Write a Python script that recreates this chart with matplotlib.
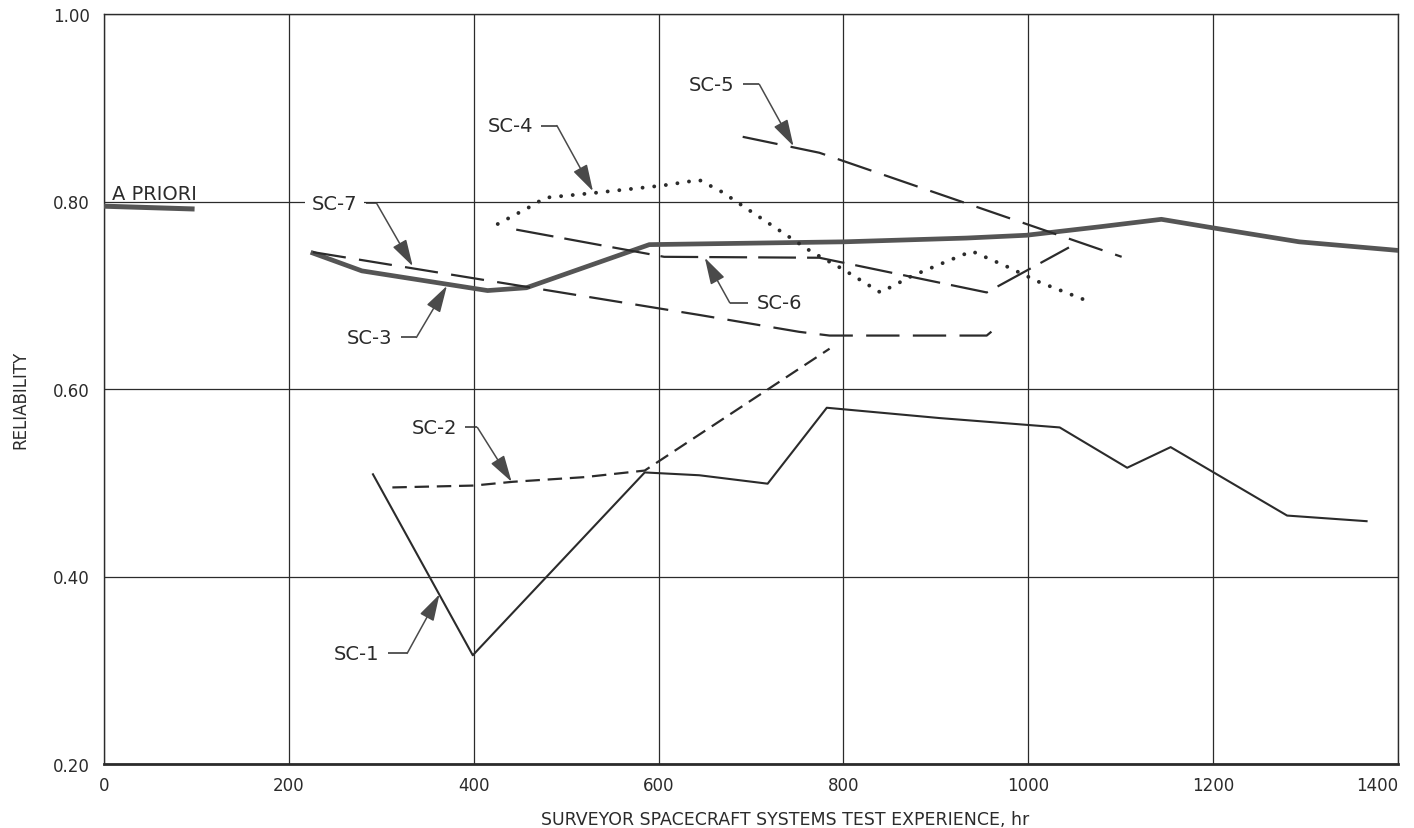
import matplotlib
matplotlib.use("Agg")
import matplotlib.pyplot as plt

# Reliability growth of Surveyor spacecraft versus systems test hours
a_priori_hr = [0, 98]
a_priori_rel = [0.795, 0.792]

sc1_hr = [291, 399, 585, 644, 718, 782, 904, 1034, 1107, 1154, 1280, 1366]
sc1_rel = [0.509, 0.316, 0.511, 0.508, 0.499, 0.580, 0.569, 0.559, 0.516, 0.538, 0.465, 0.459]

sc2_hr = [312, 400, 442, 520, 585, 785]
sc2_rel = [0.495, 0.497, 0.501, 0.506, 0.513, 0.643]

sc3_hr = [226, 279, 415, 457, 590, 801, 933, 998, 1077, 1144, 1199, 1293, 1398]
sc3_rel = [0.745, 0.726, 0.705, 0.708, 0.754, 0.757, 0.761, 0.764, 0.773, 0.781, 0.772, 0.757, 0.748]

sc4_hr = [426, 464, 477, 529, 604, 644, 669, 693, 734, 766, 799, 840, 875, 914, 939, 976, 1012, 1069]
sc4_rel = [0.776, 0.796, 0.804, 0.809, 0.817, 0.823, 0.810, 0.794, 0.767, 0.746, 0.728, 0.703,
           0.721, 0.737, 0.747, 0.731, 0.714, 0.692]

sc5_hr = [691, 774, 1101]
sc5_rel = [0.869, 0.852, 0.741]

sc6_hr = [446, 606, 774, 955, 1044]
sc6_rel = [0.770, 0.741, 0.740, 0.703, 0.751]

sc7_hr = [226, 644, 752, 785, 955, 971]
sc7_rel = [0.746, 0.679, 0.661, 0.657, 0.657, 0.670]

x_ticks = [0, 200, 400, 600, 800, 1000, 1200, 1400]
y_ticks = [0.20, 0.40, 0.60, 0.80, 1.00]

INK = "#2b2b2b"

fig = plt.figure(figsize=(14.14, 8.29), dpi=100)
ax = fig.add_axes([104 / 1414, 1 - 765 / 829, (1398 - 104) / 1414, (765 - 15) / 829])
ax.set_xlim(0, 1400)
ax.set_ylim(0.2, 1.0)
ax.set_xticks(x_ticks)
ax.set_yticks(y_ticks)
ax.set_yticklabels([f"{v:.2f}" for v in y_ticks])
ax.tick_params(length=0, labelsize=12, colors=INK)
ax.tick_params(axis="x", pad=9)
ax.tick_params(axis="y", pad=10)
# keep the last hour label inside the figure
ax.get_xticklabels()[-1].set_horizontalalignment("right")
ax.grid(True, color=INK, lw=0.9, zorder=0.5)
ax.set_axisbelow(True)
for side, sp in ax.spines.items():
    sp.set_color(INK)
    sp.set_linewidth(2.0 if side == "bottom" else 1.0)

# a priori estimate
ax.plot(a_priori_hr, a_priori_rel, color="#555555", lw=3.6, solid_capstyle="butt", zorder=4)
ax.text(9, 0.808, "A PRIORI", fontsize=14, color=INK, ha="left", va="center", zorder=3)

# spacecraft curves
ax.plot(sc1_hr, sc1_rel, color=INK, lw=1.5, zorder=4)
ax.plot(sc2_hr, sc2_rel, color=INK, lw=1.6, linestyle=(0, (6.5, 3.5)), zorder=4)
ax.plot(sc3_hr, sc3_rel, color="#555555", lw=3.4, solid_joinstyle="round", zorder=4)
ax.plot(sc4_hr, sc4_rel, color=INK, lw=2.8, linestyle=(0, (0.01, 3.0)),
        dash_capstyle="round", zorder=4)
ax.plot(sc5_hr, sc5_rel, color=INK, lw=1.6, linestyle=(0, (16, 6)), zorder=4)
ax.plot(sc6_hr, sc6_rel, color=INK, lw=1.6, linestyle=(0, (17, 5)), zorder=4)
ax.plot(sc7_hr, sc7_rel, color=INK, lw=1.6, linestyle=(0, (15, 6)), zorder=4)

# leader labels: (label, text x, text y, bend x, tip x, tip y, text side)
callouts = [
    ("SC-1", 298, 0.318, 328, 363, 0.381, "left"),
    ("SC-2", 382, 0.559, 404, 441, 0.501, "left"),
    ("SC-3", 312, 0.655, 338, 371, 0.710, "left"),
    ("SC-4", 464, 0.881, 490, 529, 0.811, "left"),
    ("SC-5", 682, 0.925, 709, 746, 0.859, "left"),
    ("SC-6", 706, 0.692, 677, 650, 0.740, "right"),
    ("SC-7", 274, 0.798, 295, 334, 0.731, "left"),
]
gap = 9
for name, tx, ty, bx, px, py, side in callouts:
    if side == "left":
        ax.text(tx, ty, name, fontsize=14, color=INK, ha="right", va="center", zorder=3,
                bbox=dict(facecolor="white", edgecolor="none", pad=5))
        lead_start = tx + gap
    else:
        ax.text(tx, ty, name, fontsize=14, color=INK, ha="left", va="center", zorder=3,
                bbox=dict(facecolor="white", edgecolor="none", pad=5))
        lead_start = tx - gap
    ax.plot([lead_start, bx], [ty, ty], color=INK, lw=1.1, zorder=5, solid_capstyle="butt")
    ax.annotate("", xy=(px, py), xytext=(bx, ty), zorder=5,
                arrowprops=dict(arrowstyle="-|>,head_length=1.1,head_width=0.32",
                                mutation_scale=15, color="#4a4a4a", lw=1.1,
                                shrinkA=0, shrinkB=0))

fig.text(785 / 1414, 1 - 820 / 829, "SURVEYOR SPACECRAFT SYSTEMS TEST EXPERIENCE, hr",
         fontsize=12.5, color=INK, ha="center", va="center")
fig.text(20 / 1414, 1 - 400 / 829, "RELIABILITY", fontsize=12, color=INK,
         rotation=90, ha="center", va="center")

fig.savefig("out.png", dpi=100, facecolor="white")
